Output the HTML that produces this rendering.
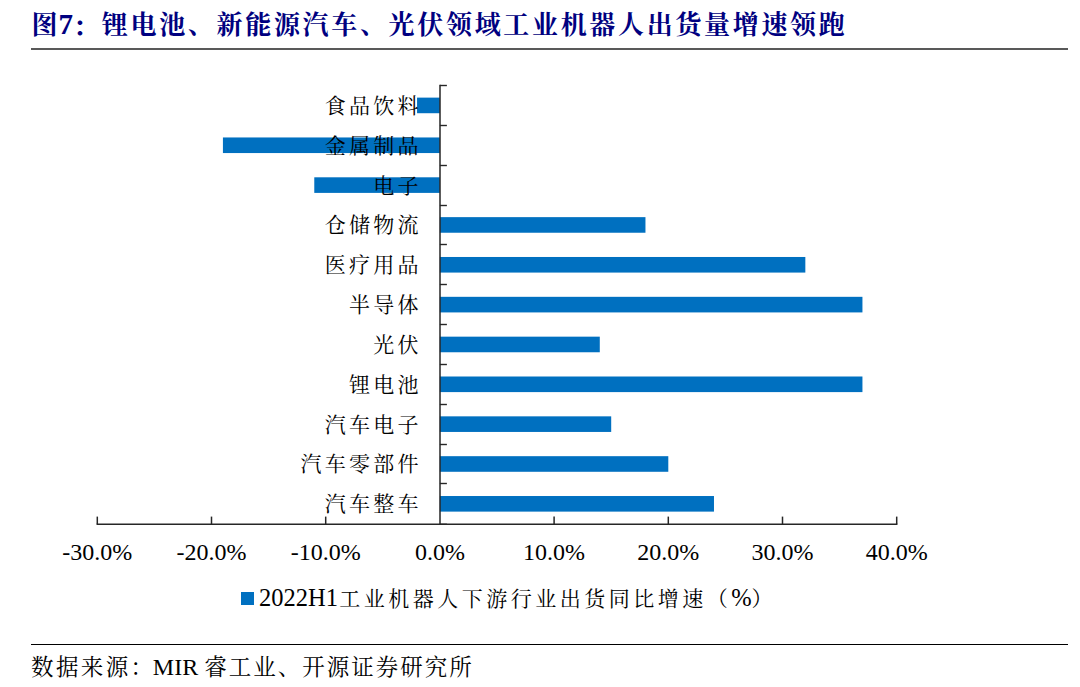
<!DOCTYPE html>
<html><head><meta charset="utf-8">
<style>
html,body{margin:0;padding:0;background:#fff;}
body{width:1080px;height:687px;position:relative;overflow:hidden;}
.t{position:absolute;white-space:nowrap;line-height:1;}
.title{left:31.6px;top:9.5px;color:#000080;font-weight:bold;font-family:"Liberation Serif","Noto Serif CJK SC",serif;}
.title .c{font-size:26px;letter-spacing:2.68px;}
.title .l{font-size:29px;font-weight:bold;}
.hr1{position:absolute;left:30.5px;top:48px;width:1037px;height:2px;background:#595959;}
.hr2{position:absolute;left:30.5px;top:643.7px;width:1037px;height:1.6px;background:#000;}
.lab{position:absolute;right:661.5px;width:200px;text-align:right;white-space:nowrap;line-height:30px;height:30px;font-family:"Liberation Serif","Noto Serif CJK SC",serif;font-size:21px;letter-spacing:3.25px;margin-right:-3.25px;color:#000;}
.tk{position:absolute;top:536.5px;width:120px;text-align:center;font-family:"Liberation Serif",serif;font-size:24px;line-height:30px;color:#000;}
.leg{left:259px;top:586px;font-family:"Liberation Serif","Noto Serif CJK SC",serif;color:#000;}
.leg .l{font-size:24.5px;}
.leg .c{font-size:21px;letter-spacing:3.5px;}
.sq{position:absolute;left:241.3px;top:592.3px;width:12.6px;height:12.4px;background:#0070C0;}
.src{left:31px;top:655px;font-family:"Liberation Serif","Noto Serif CJK SC",serif;color:#000;}
.src .c{font-size:22.5px;letter-spacing:2.4px;}
.src .l{font-size:24px;}
svg{position:absolute;left:0;top:0;}
</style></head><body>
<div class="t title"><span class="c" style="letter-spacing:1px">图</span><span class="l">7</span><span class="c" style="position:relative;top:2px">：</span><span class="c">锂电池、新能源汽车、光伏领域工业机器人出货量增速领跑</span></div>
<div class="hr1"></div>
<svg width="1080" height="687" viewBox="0 0 1080 687">
<rect x="417.06" y="97.62" width="22.84" height="15.6" fill="#0070C0"/>
<rect x="222.92" y="137.46" width="216.98" height="15.6" fill="#0070C0"/>
<rect x="314.28" y="177.30" width="125.62" height="15.6" fill="#0070C0"/>
<rect x="439.90" y="217.14" width="205.56" height="15.6" fill="#0070C0"/>
<rect x="439.90" y="256.98" width="365.44" height="15.6" fill="#0070C0"/>
<rect x="439.90" y="296.82" width="422.54" height="15.6" fill="#0070C0"/>
<rect x="439.90" y="336.66" width="159.88" height="15.6" fill="#0070C0"/>
<rect x="439.90" y="376.50" width="422.54" height="15.6" fill="#0070C0"/>
<rect x="439.90" y="416.34" width="171.30" height="15.6" fill="#0070C0"/>
<rect x="439.90" y="456.18" width="228.40" height="15.6" fill="#0070C0"/>
<rect x="439.90" y="496.02" width="274.08" height="15.6" fill="#0070C0"/>
<line x1="440" y1="84.8" x2="440" y2="525" stroke="#262626" stroke-width="1.5"/>
<line x1="439.9" y1="85.50" x2="446.9" y2="85.50" stroke="#262626" stroke-width="1.4"/>
<line x1="439.9" y1="125.50" x2="446.9" y2="125.50" stroke="#262626" stroke-width="1.4"/>
<line x1="439.9" y1="165.50" x2="446.9" y2="165.50" stroke="#262626" stroke-width="1.4"/>
<line x1="439.9" y1="205.50" x2="446.9" y2="205.50" stroke="#262626" stroke-width="1.4"/>
<line x1="439.9" y1="244.50" x2="446.9" y2="244.50" stroke="#262626" stroke-width="1.4"/>
<line x1="439.9" y1="284.50" x2="446.9" y2="284.50" stroke="#262626" stroke-width="1.4"/>
<line x1="439.9" y1="324.50" x2="446.9" y2="324.50" stroke="#262626" stroke-width="1.4"/>
<line x1="439.9" y1="364.50" x2="446.9" y2="364.50" stroke="#262626" stroke-width="1.4"/>
<line x1="439.9" y1="404.50" x2="446.9" y2="404.50" stroke="#262626" stroke-width="1.4"/>
<line x1="439.9" y1="444.50" x2="446.9" y2="444.50" stroke="#262626" stroke-width="1.4"/>
<line x1="439.9" y1="483.50" x2="446.9" y2="483.50" stroke="#262626" stroke-width="1.4"/>
<line x1="439.9" y1="524.30" x2="446.9" y2="524.30" stroke="#262626" stroke-width="1.4"/>
<line x1="96.6" y1="524.3" x2="897.4" y2="524.3" stroke="#262626" stroke-width="1.5"/>
<line x1="97.30" y1="516.6" x2="97.30" y2="524.3" stroke="#262626" stroke-width="1.5"/>
<line x1="211.50" y1="516.6" x2="211.50" y2="524.3" stroke="#262626" stroke-width="1.5"/>
<line x1="325.70" y1="516.6" x2="325.70" y2="524.3" stroke="#262626" stroke-width="1.5"/>
<line x1="554.10" y1="516.6" x2="554.10" y2="524.3" stroke="#262626" stroke-width="1.5"/>
<line x1="668.30" y1="516.6" x2="668.30" y2="524.3" stroke="#262626" stroke-width="1.5"/>
<line x1="782.50" y1="516.6" x2="782.50" y2="524.3" stroke="#262626" stroke-width="1.5"/>
<line x1="896.70" y1="516.6" x2="896.70" y2="524.3" stroke="#262626" stroke-width="1.5"/>
</svg>
<div class="lab" style="top:90.8px">食品饮料</div>
<div class="lab" style="top:130.7px">金属制品</div>
<div class="lab" style="top:170.5px">电子</div>
<div class="lab" style="top:210.3px">仓储物流</div>
<div class="lab" style="top:250.2px">医疗用品</div>
<div class="lab" style="top:290.0px">半导体</div>
<div class="lab" style="top:329.9px">光伏</div>
<div class="lab" style="top:369.7px">锂电池</div>
<div class="lab" style="top:409.5px">汽车电子</div>
<div class="lab" style="top:449.4px">汽车零部件</div>
<div class="lab" style="top:489.2px">汽车整车</div>
<div class="tk" style="left:37.3px">-30.0%</div>
<div class="tk" style="left:151.5px">-20.0%</div>
<div class="tk" style="left:265.7px">-10.0%</div>
<div class="tk" style="left:379.9px">0.0%</div>
<div class="tk" style="left:494.1px">10.0%</div>
<div class="tk" style="left:608.3px">20.0%</div>
<div class="tk" style="left:722.5px">30.0%</div>
<div class="tk" style="left:836.7px">40.0%</div>
<div class="sq"></div>
<div class="t leg"><span class="l">2022H1</span><span class="c" style="margin-left:1.2px">工业机器人下游行业出货同比增速（</span><span class="l">%</span><span class="c">）</span></div>
<div class="hr2"></div>
<div class="t src"><span class="c">数据来源：</span><span class="l" style="margin-left:-2.7px">MIR </span><span class="c" style="letter-spacing:2px">睿工业、开源证券研究所</span></div>
</body></html>
